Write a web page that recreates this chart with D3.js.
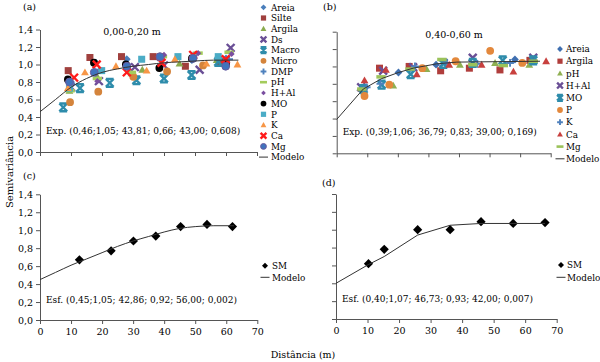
<!DOCTYPE html>
<html>
<head>
<meta charset="utf-8">
<script src="https://cdn.jsdelivr.net/npm/d3@7"></script>
<style>
body { margin: 0; background: #fff; }
text { font-family: "DejaVu Serif", serif; fill: #000; }
</style>
</head>
<body>
<div id="app"></div>
<script>
const W = 600;
const H = 362;

const xTicks = [0, 10, 20, 30, 40, 50, 60, 70];
const yTicks = [0, 0.2, 0.4, 0.6, 0.8, 1.0, 1.2, 1.4];
const yTickLabels = ["0,0", "0,2", "0,4", "0,6", "0,8", "1,0", "1,2", "1,4"];

// (a) 0,00-0,20 m  -- [distancia, semivariancia]
const areiaA = [[10, 0.80], [18, 1.02], [28, 1.06], [38, 1.08], [49, 1.05], [60, 1.07]];
const silteA = [[9.1, 0.93], [16.1, 1.08], [26.3, 1.09], [36.5, 1.09], [46.9, 0.98], [58, 1.03]];
const argilaA = [[9.5, 0.70], [18.5, 0.86], [29.5, 0.90], [33, 0.94], [45, 1.01], [57, 1.05]];
const dsA = [[10, 0.74], [19, 0.81], [30.6, 0.97], [40, 0.99], [51.5, 0.94], [61.5, 1.19]];
const macroA = [[7.5, 0.51], [12.9, 0.73], [22.5, 0.79], [31.1, 0.82], [40, 0.84], [48.9, 0.88], [57.5, 1.03]];
const microA = [[9.7, 0.57], [18.8, 0.69], [30.1, 0.86], [41, 0.92], [52.6, 0.99], [60, 1.00]];
const dmpA = [[10, 0.78], [19, 0.94], [28, 1.00], [39, 1.06], [49.5, 1.10], [61, 1.06]];
const phA = [[9.7, 0.70], [18.5, 0.84], [29.5, 0.91], [39.5, 1.09], [51, 1.13], [61, 1.14]];
const halA = [[10, 0.76], [18.5, 0.81], [28.5, 0.96], [40, 1.11], [51, 1.13], [61.8, 1.12]];
const moA = [[9, 0.83], [17.4, 1.02], [27.7, 1.00], [38.5, 0.96], [49, 1.07], [60, 1.00]];
const pA = [[9.5, 0.73], [19.9, 0.93], [32.8, 1.06], [44.5, 1.09], [57.5, 1.09]];
const kA = [[9, 0.73], [14.5, 0.91], [24.5, 0.98], [34.4, 0.93], [43.5, 1.06], [53.7, 1.01], [63.7, 1.00]];
const caA = [[11, 0.85], [18.3, 1.00], [28, 0.91], [39.2, 1.02], [49.4, 1.11], [59.9, 1.06]];
const mgA = [[9.5, 0.80], [17.5, 0.91], [28, 0.98], [38.7, 1.09], [49.4, 1.07], [59.9, 0.98]];
const modeloA = [[0, 0.46], [5, 0.60], [10, 0.74], [15, 0.84], [20, 0.91], [25, 0.95], [30, 0.98], [35, 1.00], [40, 1.02], [45, 1.03], [50, 1.04], [56, 1.05], [64, 1.05]];

// (b) 0,40-0,60 m
const areiaB = [[9.5, 0.76], [20.2, 0.93], [32.5, 1.02], [58.3, 1.08]];
const argilaB = [[14, 0.98], [23.7, 1.00], [34, 0.95], [43.4, 0.98], [53.4, 0.96], [63.2, 1.07]];
const phB = [[8.2, 0.74], [18.5, 0.78], [29.4, 0.97], [40.3, 1.02], [51.8, 1.04], [63, 1.02]];
const halB = [[8, 0.76], [15.2, 0.95], [25, 0.99], [35, 1.04], [44.5, 1.10], [64.3, 1.10]];
const moB = [[8.8, 0.74], [14.7, 0.79], [24.2, 0.91], [34.9, 1.03], [44.5, 1.04], [54.3, 1.07], [64.3, 1.07]];
const pB = [[9.1, 0.66], [17.2, 0.79], [28, 0.98], [38.9, 1.06], [50.2, 1.18], [60.7, 1.04]];
const kB = [[9.8, 0.76], [14.3, 0.80], [25.6, 1.00], [36, 1.04], [46, 1.03], [56.7, 1.04]];
const caB = [[9.1, 0.84], [16.1, 0.96], [26.2, 0.91], [36.8, 1.02], [47.4, 1.02], [57.8, 0.94], [68.5, 1.06]];
const mgB = [[8.2, 0.74], [14.5, 0.88], [24, 0.97], [34.4, 1.08], [44.5, 1.02], [54.5, 1.01], [64.3, 1.06]];
const modeloB = [[0, 0.39], [8.7, 0.74], [14.7, 0.86], [20.2, 0.93], [25, 0.98], [32.7, 1.03], [39.3, 1.05], [66.5, 1.06]];

// (c) SM 0,00-0,20 m
const smC = [[12.7, 0.67], [22.9, 0.77], [30.1, 0.88], [37.3, 0.935], [45.3, 1.04], [53.8, 1.065], [62, 1.04]];
const modeloC = [[0, 0.45], [5, 0.53], [10, 0.61], [15, 0.68], [20, 0.75], [25, 0.82], [30, 0.88], [35, 0.93], [40, 0.98], [45, 1.02], [50, 1.04], [56, 1.05], [62.5, 1.05]];

// (d) SM 0,40-0,60 m
const smD = [[10.3, 0.62], [15.3, 0.78], [25.9, 1.00], [36.2, 1.00], [46, 1.09], [56.2, 1.07], [66.3, 1.08]];
const modeloD = [[0, 0.40], [10.3, 0.61], [15.3, 0.70], [25.9, 0.94], [36.2, 1.05], [46, 1.07], [56.2, 1.07], [66.3, 1.07]];

const seriesA = [
    {name: "Areia", data: areiaA, shape: "diamond", color: "#4a7ebb"},
    {name: "Silte", data: silteA, shape: "square", color: "#a0403e"},
    {name: "Argila", data: argilaA, shape: "triangle", color: "#8aab4e"},
    {name: "Ds", data: dsA, shape: "x", color: "#6a4f96"},
    {name: "Macro", data: macroA, shape: "star", color: "#2e8cab"},
    {name: "Micro", data: microA, shape: "circle", color: "#d4843c"},
    {name: "DMP", data: dmpA, shape: "plus", color: "#4f81bd"},
    {name: "pH", data: phA, shape: "dash", color: "#a4cc5c"},
    {name: "H+Al", data: halA, shape: "sdiamond", color: "#7a4ea0"},
    {name: "MO", data: moA, shape: "circle", color: "#000000"},
    {name: "P", data: pA, shape: "square", color: "#4bacc6"},
    {name: "K", data: kA, shape: "triangle", color: "#f79646"},
    {name: "Ca", data: caA, shape: "x", color: "#ff1a1a"},
    {name: "Mg", data: mgA, shape: "circle", color: "#3f73bd", stroke: "#6a5a9e"}
];

const seriesB = [
    {name: "Areia", data: areiaB, shape: "diamond", color: "#3f6fb0"},
    {name: "Argila", data: argilaB, shape: "square", color: "#b03e3c"},
    {name: "pH", data: phB, shape: "triangle", color: "#8fb052"},
    {name: "H+Al", data: halB, shape: "x", color: "#6a4f96"},
    {name: "MO", data: moB, shape: "star", color: "#2e8cab"},
    {name: "P", data: pB, shape: "circle", color: "#e3883c"},
    {name: "K", data: kB, shape: "plus", color: "#4f81bd"},
    {name: "Ca", data: caB, shape: "triangle", color: "#c8403e"},
    {name: "Mg", data: mgB, shape: "dash", color: "#9bc25a"}
];

const svg = d3.select("#app")
    .append("svg")
    .attr("width", W)
    .attr("height", H);

function markerPath(shape, r) {
    if (shape === "diamond") return `M0,${-r}L${r},0L0,${r}L${-r},0Z`;
    if (shape === "sdiamond") return `M0,${-r * 0.8}L${r * 0.8},0L0,${r * 0.8}L${-r * 0.8},0Z`;
    if (shape === "square") return `M${-r * 0.9},${-r * 0.9}h${1.8 * r}v${1.8 * r}h${-1.8 * r}Z`;
    if (shape === "triangle") return `M0,${-r}L${r},${r * 0.75}L${-r},${r * 0.75}Z`;
    if (shape === "circle") return d3.symbol(d3.symbolCircle, Math.PI * r * r)();
    if (shape === "dash") return `M${-r * 1.2},${-r * 0.45}h${2.4 * r}v${r * 0.9}h${-2.4 * r}Z`;
    if (shape === "x") return `M${-r},${-r}L${r},${r}M${-r},${r}L${r},${-r}`;
    if (shape === "plus") return `M${-r},0H${r}M0,${-r}V${r}`;
    if (shape === "star") return `M${-r},${-r}L${r},${r}M${-r},${r}L${r},${-r}M${-r},${-r}H${r}M${-r},${r}H${r}`;
    return "";
}

function styleMarker(sel, s) {
    const stroked = s.shape === "x" || s.shape === "plus" || s.shape === "star";
    sel.style("fill", stroked ? "none" : s.color)
        .style("stroke", stroked ? s.color : (s.stroke || "none"))
        .style("stroke-width", stroked ? (s.shape === "plus" ? 1.9 : 2.4) : 1);
}

function drawPanel(p) {
    const x = d3.scaleLinear().domain([0, 70]).range([p.left, p.right]);
    const y = d3.scaleLinear().domain([0, 1.4]).range([p.bottom, p.top]);
    const g = svg.append("g");

    const yAxis = d3.axisLeft(y)
        .tickValues(yTicks)
        .tickSize(4)
        .tickSizeOuter(0)
        .tickPadding(3)
        .tickFormat(function (d, i) {
            return p.yLabels ? yTickLabels[i] : "";
        });
    const xAxis = d3.axisBottom(x)
        .tickValues(xTicks)
        .tickSize(4)
        .tickSizeOuter(0)
        .tickPadding(4)
        .tickFormat(function (d) {
            return p.xLabels ? String(d) : "";
        });

    const ya = g.append("g").attr("transform", `translate(${p.left},0)`).call(yAxis);
    const xa = g.append("g").attr("transform", `translate(0,${p.bottom})`).call(xAxis);
    [ya, xa].forEach(function (a) {
        a.select(".domain").style("stroke", "#555");
        a.selectAll(".tick line").style("stroke", "#555");
        a.selectAll("text").style("font-size", "9.5px").style("fill", "#000");
    });

    // series points
    p.series.forEach(function (s) {
        const pts = g.append("g").selectAll("path")
            .data(s.data)
            .enter()
            .append("path")
            .attr("transform", function (d) {
                return `translate(${x(d[0])},${y(d[1])})`;
            })
            .attr("d", markerPath(s.shape, p.r));
        styleMarker(pts, s);
    });

    // model line
    const line = d3.line()
        .x(function (d) { return x(d[0]); })
        .y(function (d) { return y(d[1]); })
        .curve(p.smooth ? d3.curveMonotoneX : d3.curveLinear);
    g.append("path")
        .datum(p.model)
        .attr("d", line)
        .style("fill", "none")
        .style("stroke", "#333")
        .style("stroke-width", 1);

    // labels
    g.append("text").attr("x", p.labX).attr("y", p.labY).style("font-size", "9.5px").text(p.label);
    if (p.title) {
        g.append("text").attr("x", p.titleX).attr("y", p.titleY)
            .attr("text-anchor", "middle").style("font-size", "9.5px").text(p.title);
    }
    g.append("text").attr("x", p.left + 6).attr("y", p.noteY).style("font-size", "9px").text(p.note);

    // legend
    const items = p.series.concat([{name: "Modelo", shape: "line"}]);
    items.forEach(function (s, i) {
        const ly = p.legY + i * p.legStep;
        if (s.shape === "line") {
            g.append("line")
                .attr("x1", p.legX - 4.5).attr("x2", p.legX + 4.5)
                .attr("y1", ly).attr("y2", ly)
                .style("stroke", "#333").style("stroke-width", 1);
        } else {
            const m = g.append("path")
                .attr("transform", `translate(${p.legX},${ly})`)
                .attr("d", markerPath(s.shape, p.legR));
            styleMarker(m, s);
        }
        g.append("text")
            .attr("x", p.legX + p.legGap)
            .attr("y", ly + 3.2)
            .style("font-size", "8.8px")
            .text(s.name);
    });
}

drawPanel({
    left: 40, right: 257, top: 29.5, bottom: 152,
    series: seriesA, model: modeloA, smooth: true, r: 3.9,
    yLabels: true, xLabels: false,
    label: "(a)", labX: 23, labY: 10,
    title: "0,00-0,20 m", titleX: 132, titleY: 35,
    note: "Exp. (0,46;1,05; 43,81; 0,66; 43,00; 0,608)", noteY: 134,
    legX: 263.5, legY: 7.3, legStep: 10.7, legR: 2.9, legGap: 7.5
});

drawPanel({
    left: 336.7, right: 550.7, top: 31.7, bottom: 153.3,
    series: seriesB, model: modeloB, smooth: false, r: 3.9,
    yLabels: false, xLabels: false,
    label: "(b)", labX: 323, labY: 10,
    title: "0,40-0,60 m", titleX: 454, titleY: 38,
    note: "Exp. (0,39;1,06; 36,79; 0,83; 39,00; 0,169)", noteY: 135,
    legX: 560, legY: 49, legStep: 12.2, legR: 2.9, legGap: 6
});

drawPanel({
    left: 40, right: 257.3, top: 194.3, bottom: 320,
    series: [{name: "SM", data: smC, shape: "diamond", color: "#000"}],
    model: modeloC, smooth: true, r: 4.6,
    yLabels: true, xLabels: true,
    label: "(c)", labX: 23, labY: 179,
    note: "Esf. (0,45;1,05; 42,86; 0,92; 56,00; 0,002)", noteY: 303,
    legX: 265, legY: 265.7, legStep: 11.6, legR: 3, legGap: 7
});

drawPanel({
    left: 336, right: 556.7, top: 194, bottom: 319,
    series: [{name: "SM", data: smD, shape: "diamond", color: "#000"}],
    model: modeloD, smooth: false, r: 4.6,
    yLabels: false, xLabels: true,
    label: "(d)", labX: 322, labY: 186,
    note: "Esf. (0,40;1,07; 46,73; 0,93; 42,00; 0,007)", noteY: 302,
    legX: 561, legY: 265, legStep: 12.3, legR: 3, legGap: 6
});

// axis titles
svg.append("text")
    .attr("transform", "translate(13,172) rotate(-90)")
    .attr("text-anchor", "middle")
    .style("font-size", "10px")
    .text("Semivariância");
svg.append("text")
    .attr("x", 303)
    .attr("y", 358)
    .attr("text-anchor", "middle")
    .style("font-size", "9.5px")
    .text("Distância (m)");
</script>
</body>
</html>
